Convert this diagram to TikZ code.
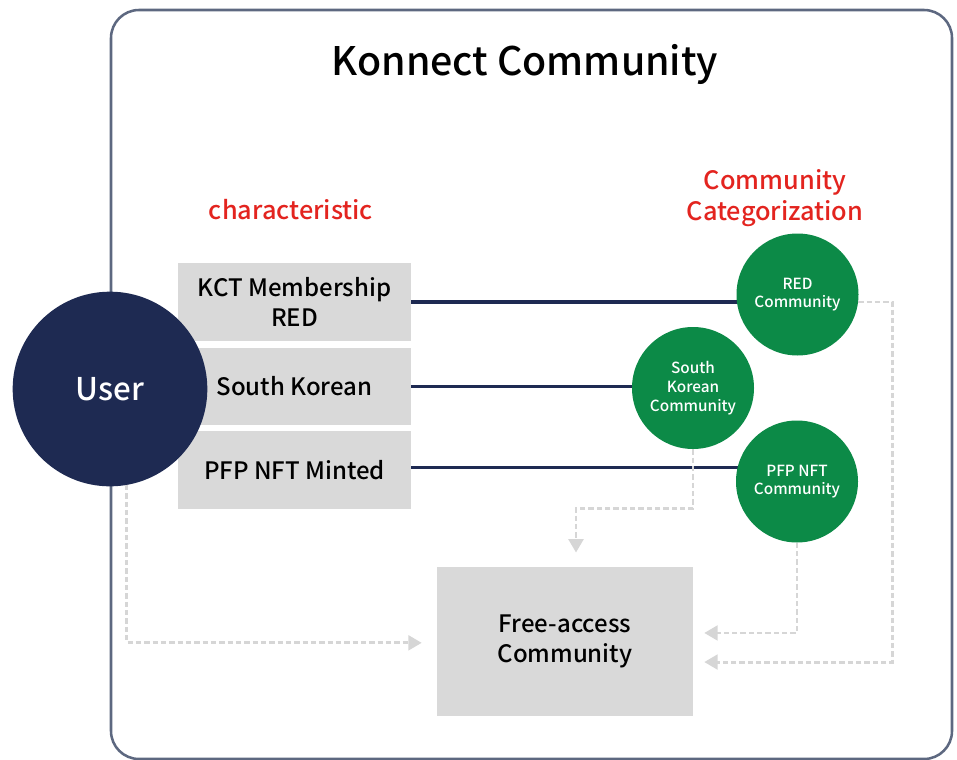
\documentclass[tikz,border=0pt]{standalone}
\usepackage{fontspec}
\setmainfont{Noto Sans CJK KR}[UprightFont=* Medium,BoldFont=* Bold]
\usetikzlibrary{arrows.meta,backgrounds}
\definecolor{navy}{HTML}{1E2A52}
\definecolor{kgreen}{HTML}{0C8A47}
\definecolor{boxgray}{HTML}{D9D9D9}
\definecolor{framegray}{HTML}{5D6880}
\definecolor{kred}{HTML}{E3241F}
\definecolor{dashgray}{HTML}{D6D6D6}

\begin{document}
\begin{tikzpicture}[x=0.75pt,y=-0.75pt,
    usercirc/.style={circle,fill=navy,text=white,minimum size=146pt,inner sep=0pt,
                     font=\fontsize{23.5}{26}\selectfont},
    charbox/.style={fill=boxgray,minimum width=175pt,minimum height=58pt,align=center,
                    font=\fontsize{18}{22}\selectfont},
    commcirc/.style={circle,fill=kgreen,text=white,minimum size=91.5pt,inner sep=0pt,
                     align=center,font=\fontsize{11.5}{14}\selectfont},
    heading/.style={text=kred,align=center,font=\fontsize{19}{23.5}\selectfont},
    link/.style={draw=navy,line width=2.3pt},
    freearrow/.style={draw=dashgray,line width=2.2pt,dash pattern=on 4pt off 2.25pt,
                      -{Triangle[length=10pt,width=11pt,fill=dashgray]}}]
\useasboundingbox (0,0) rectangle (957,760);
% outer frame
\draw[framegray,line width=1.9pt,rounded corners=21pt] (111,10) rectangle (952,759);

\node[font=\fontsize{29.5}{32}\selectfont] (title) at (525,64) {Konnect Community};
\node[heading] (charhead) at (291,210) {characteristic};
\node[heading] (cathead) at (775,198) {Community\\Categorization};

% characteristics
\node[charbox] (kct) at (294.5,302) {KCT Membership\\RED};
\node[charbox] (sk) at (294.5,386.5) {South Korean};
\node[charbox] (pfp) at (294.5,470) {PFP NFT Minted};
\node[usercirc] (user) at (110,389) {User};

% communities
\node[commcirc] (redc) at (797.5,294.5) {RED\\Community};
\node[commcirc] (skc) at (693,388) {South\\Korean\\Community};
\node[commcirc] (pfpc) at (797,481.5) {PFP NFT\\Community};

\node[fill=boxgray,minimum width=192pt,minimum height=112pt,align=center,
      font=\fontsize{18}{22}\selectfont] (free) at (565,641.5) {Free-access\\Community};

\begin{scope}[on background layer]
\draw[link] (kct.east) -- (kct.east -| redc.center);
\draw[link] (sk.east) -- (sk.east -| skc.center);
\draw[link] ([yshift=2.2pt]pfp.east) -- ([yshift=2.2pt]pfp.east -| pfpc.center);
\end{scope}

% free access
\draw[freearrow] (user.-80) |- ([xshift=-11.25pt,yshift=-1pt]free.west);
\draw[freearrow] (skc.south) -- ++(0,59) -| ([xshift=8.25pt,yshift=10.5pt]free.north);
\draw[freearrow] (pfpc.south) |- ([xshift=8.25pt,yshift=6.4pt]free.east);
\draw[freearrow] (redc.-7) -- ++(34,0) |- ([xshift=8.25pt,yshift=-15.4pt]free.east);
\end{tikzpicture}
\end{document}
